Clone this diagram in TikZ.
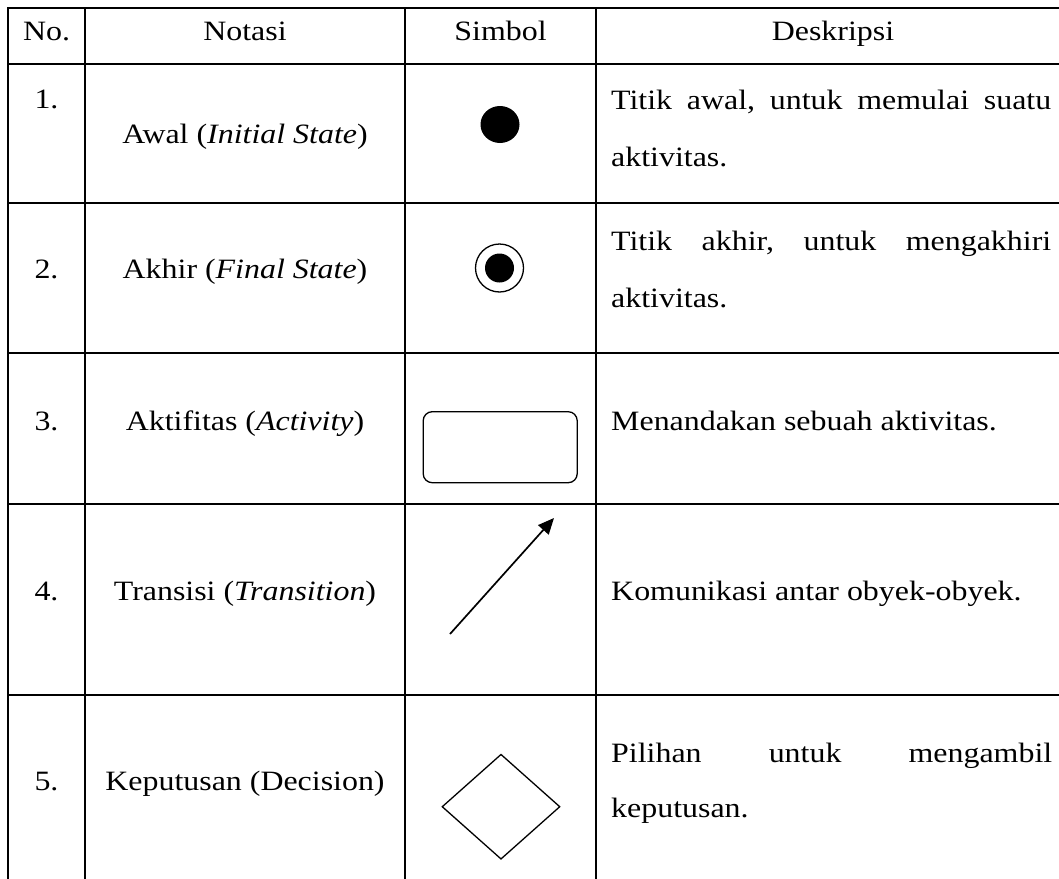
\documentclass[tikz,border=0pt]{standalone}
\usepackage{fontspec}
\setmainfont{Liberation Serif}[FakeStretch=1.14]
\usetikzlibrary{shapes.geometric,arrows.meta}
\tikzset{
  grid/.style={line width=2.1pt, line cap=rect},
  txt/.style={inner sep=0pt, anchor=base, font=\fontsize{28}{34}\selectfont},
  txtl/.style={inner sep=0pt, anchor=base west, font=\fontsize{28}{34}\selectfont},
  sym/.style={line width=1.3pt},
}
\begin{document}
\begin{tikzpicture}[x=1pt,y=-1pt]
\useasboundingbox (0,0) rectangle (1059,878);
\clip (0,0) rectangle (1059,878);
\fill[white] (0,0) rectangle (1059,878);
% grid
\foreach \yy in {8,64,203,353,504,695} \draw[grid] (8,\yy) -- (1075,\yy);
\foreach \xx in {8,85,405,596} \draw[grid] (\xx,8) -- (\xx,890);
% header
\node[txt] (h1) at (46.5,40) {No.};
\node[txt] (h2) at (245,40) {Notasi};
\node[txt] (h3) at (500.5,40) {Simbol};
\node[txt] (h4) at (833,40) {Deskripsi};
% numbers
\node[txt] (n1) at (46.5,108) {1.};
\node[txt] (n2) at (46.5,278) {2.};
\node[txt] (n3) at (46.5,430) {3.};
\node[txt] (n4) at (46.5,600) {4.};
\node[txt] (n5) at (46.5,790) {5.};
% notasi
\node[txt] (a1) at (245,143) {Awal (\textit{Initial State})};
\node[txt] (a2) at (245,278) {Akhir (\textit{Final State})};
\node[txt] (a3) at (245,430) {Aktifitas (\textit{Activity})};
\node[txt] (a4) at (245,600) {Transisi (\textit{Transition})};
\node[txt] (a5) at (245,790) {Keputusan (Decision)};
% deskripsi
\node[txtl] (d1a) at (611,109) {\hbox to 440pt{Titik\hfill awal,\hfill untuk\hfill memulai\hfill suatu}};
\node[txtl] (d1b) at (611,166) {aktivitas.};
\node[txtl] (d2a) at (611,250) {\hbox to 440pt{Titik\hfill akhir,\hfill untuk\hfill mengakhiri}};
\node[txtl] (d2b) at (611,307) {aktivitas.};
\node[txtl] (d3) at (611,430) {Menandakan sebuah aktivitas.};
\node[txtl] (d4) at (611,600) {Komunikasi antar obyek-obyek.};
\node[txtl] (d5a) at (611,762) {\hbox to 441pt{Pilihan\hfill untuk\hfill mengambil}};
\node[txtl] (d5b) at (611,817) {keputusan.};
% symbols
\node[ellipse, fill=black, inner sep=0pt, minimum width=39pt, minimum height=37pt] (init) at (500,124.5) {};
\node[circle, draw, sym, inner sep=0pt, minimum size=48pt] (finOut) at (499.5,268) {};
\node[circle, fill=black, inner sep=0pt, minimum size=29pt] (finIn) at (499.5,268) {};
\node[rectangle, draw, sym, rounded corners=9pt, inner sep=0pt, minimum width=154pt, minimum height=71pt] (act) at (500.2,447.2) {};
\coordinate (t0) at (450,634);
\coordinate (t1) at (554,518);
\draw[line width=1.7pt, -{Triangle[length=16pt,width=14pt]}] (t0) -- (t1);
\node[diamond, draw, sym, inner sep=0pt, minimum width=118pt, minimum height=105pt] (dec) at (501,806.7) {};
\end{tikzpicture}
\end{document}
